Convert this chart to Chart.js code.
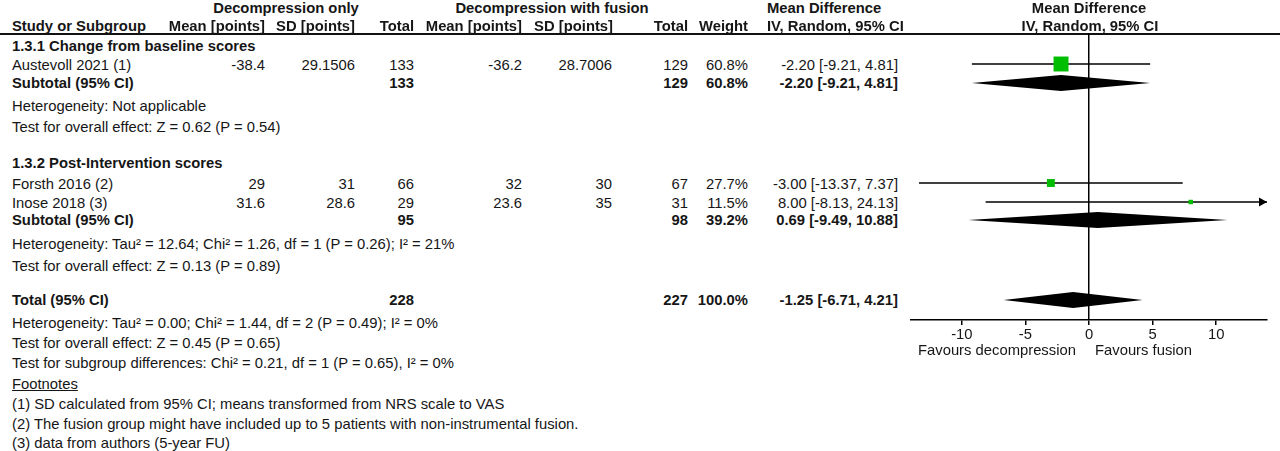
<!DOCTYPE html>
<html>
<head>
<meta charset="utf-8">
<script src="https://cdn.jsdelivr.net/npm/chart.js@4.4.1/dist/chart.umd.min.js"></script>
<style>
  body { margin: 0; background: #fff; width: 1280px; height: 451px; overflow: hidden; position: relative;
         font-family: 'Liberation Sans', Arial, sans-serif; font-size: 14.8px; color: #161616; }
  .t { position: absolute; white-space: nowrap; line-height: 18px; height: 18px; }
  .b { font-weight: bold; }
  .u { text-decoration: underline; }
  #rule { position: absolute; left: 0; top: 33px; width: 1280px; height: 2px; background: #111; }
  #plot { position: absolute; left: 900px; top: 0; width: 380px; height: 350px; }
</style>
</head>
<body>
<div id="rule"></div>
<div id="plot"><canvas id="forest"></canvas></div>
<script>
// studies
const studies = ['Austevoll 2021 (1)', 'Forsth 2016 (2)', 'Inose 2018 (3)'];
const meanOnly = [-38.4, 29, 31.6];
const sdOnly = [29.1506, 31, 28.6];
const totalOnly = [133, 66, 29];
const meanFusion = [-36.2, 32, 23.6];
const sdFusion = [28.7006, 30, 35];
const totalFusion = [129, 67, 31];
const weights = [60.8, 27.7, 11.5];
const md = [-2.20, -3.00, 8.00];
const ciLow = [-9.21, -13.37, -8.13];
const ciHigh = [4.81, 7.37, 24.13];

// pooled rows (subtotal 1.3.1, subtotal 1.3.2, total)
const pooledLabels = ['Subtotal (95% CI)', 'Subtotal (95% CI)', 'Total (95% CI)'];
const pooledOnly = [133, 95, 228];
const pooledFusion = [129, 98, 227];
const pooledWeight = [60.8, 39.2, 100.0];
const pooledMd = [-2.20, 0.69, -1.25];
const pooledLow = [-9.21, -9.49, -6.71];
const pooledHigh = [4.81, 10.88, 4.21];

// axis
const xTicks = [-10, -5, 0, 5, 10];
const xMin = -14, xMax = 14;

// row layout (vertical centre of each table line, px)
const studyRowY = [65, 184, 203];
const markRowY = [64, 183, 202];
const pooledRowY = [83, 220, 300];

function put(text, x, y, align, cls) {
  const d = document.createElement('div');
  d.className = 't ' + (cls || '');
  d.textContent = text;
  d.style.top = (y - 9) + 'px';
  if (align === 'r') d.style.right = (1280 - x) + 'px';
  else if (align === 'c') { d.style.left = x + 'px'; d.style.transform = 'translateX(-50%)'; }
  else d.style.left = x + 'px';
  document.body.appendChild(d);
}
const fmtCI = (m, l, h) => m.toFixed(2) + ' [' + l.toFixed(2) + ', ' + h.toFixed(2) + ']';

// header
put('Decompression only', 286, 8, 'c', 'b');
put('Decompression with fusion', 552, 8, 'c', 'b');
put('Mean Difference', 767, 8, 'l', 'b');
put('Mean Difference', 1089, 8, 'c', 'b');
put('Study or Subgroup', 12, 26, 'l', 'b');
put('Mean [points]', 265, 26, 'r', 'b');
put('SD [points]', 355, 26, 'r', 'b');
put('Total', 414, 26, 'r', 'b');
put('Mean [points]', 522, 26, 'r', 'b');
put('SD [points]', 613, 26, 'r', 'b');
put('Total', 688, 26, 'r', 'b');
put('Weight', 748, 26, 'r', 'b');
put('IV, Random, 95% CI', 767, 26, 'l', 'b');
put('IV, Random, 95% CI', 1090, 26, 'c', 'b');

// study rows
studies.forEach((s, i) => {
  const y = studyRowY[i];
  put(s, 12, y, 'l');
  put(String(meanOnly[i]), 265, y, 'r');
  put(String(sdOnly[i]), 355, y, 'r');
  put(String(totalOnly[i]), 414, y, 'r');
  put(String(meanFusion[i]), 522, y, 'r');
  put(String(sdFusion[i]), 612, y, 'r');
  put(String(totalFusion[i]), 688, y, 'r');
  put(weights[i].toFixed(1) + '%', 748, y, 'r');
  put(fmtCI(md[i], ciLow[i], ciHigh[i]), 898, y, 'r');
});

// pooled rows
pooledLabels.forEach((s, i) => {
  const y = pooledRowY[i];
  put(s, 12, y, 'l', 'b');
  put(String(pooledOnly[i]), 414, y, 'r', 'b');
  put(String(pooledFusion[i]), 688, y, 'r', 'b');
  put(pooledWeight[i].toFixed(1) + '%', 748, y, 'r', 'b');
  put(fmtCI(pooledMd[i], pooledLow[i], pooledHigh[i]), 898, y, 'r', 'b');
});

// other lines
put('1.3.1 Change from baseline scores', 12, 46, 'l', 'b');
put('Heterogeneity: Not applicable', 12, 106, 'l');
put('Test for overall effect: Z = 0.62 (P = 0.54)', 12, 127, 'l');
put('1.3.2 Post-Intervention scores', 12, 163, 'l', 'b');
put('Heterogeneity: Tau² = 12.64; Chi² = 1.26, df = 1 (P = 0.26); I² = 21%', 12, 244, 'l');
put('Test for overall effect: Z = 0.13 (P = 0.89)', 12, 266, 'l');
put('Heterogeneity: Tau² = 0.00; Chi² = 1.44, df = 2 (P = 0.49); I² = 0%', 12, 323, 'l');
put('Test for overall effect: Z = 0.45 (P = 0.65)', 12, 343, 'l');
put('Test for subgroup differences: Chi² = 0.21, df = 1 (P = 0.65), I² = 0%', 12, 363, 'l');
put('Footnotes', 12, 384, 'l', 'u');
put('(1) SD calculated from 95% CI; means transformed from NRS scale to VAS', 12, 404, 'l');
put('(2) The fusion group might have included up to 5 patients with non-instrumental fusion.', 12, 424, 'l');
put('(3) data from authors (5-year FU)', 12, 443, 'l');
put('Favours decompression', 918, 350, 'l');
put('Favours fusion', 1095, 350, 'l');

// diamonds for pooled estimates + arrows for clipped CIs
const forestMarks = {
  id: 'forestMarks',
  afterDatasetsDraw(chart) {
    const { ctx, scales: { x, y }, chartArea } = chart;
    ctx.save();
    ctx.fillStyle = '#000';
    pooledMd.forEach((m, i) => {
      const cy = y.getPixelForValue(pooledRowY[i]);
      ctx.beginPath();
      ctx.moveTo(x.getPixelForValue(pooledLow[i]), cy);
      ctx.lineTo(x.getPixelForValue(m), cy - 8);
      ctx.lineTo(x.getPixelForValue(pooledHigh[i]), cy);
      ctx.lineTo(x.getPixelForValue(m), cy + 8);
      ctx.closePath();
      ctx.fill();
    });
    ciHigh.forEach((h, i) => {
      if (h <= xMax) return;
      const cy = y.getPixelForValue(markRowY[i]);
      const tip = chartArea.right;
      ctx.beginPath();
      ctx.moveTo(tip, cy);
      ctx.lineTo(tip - 8, cy - 4.5);
      ctx.lineTo(tip - 8, cy + 4.5);
      ctx.closePath();
      ctx.fill();
    });
    ctx.restore();
  }
};

const ciSets = studies.map((s, i) => ({
  type: 'line',
  label: s,
  data: [{ x: ciLow[i], y: markRowY[i] }, { x: ciHigh[i], y: markRowY[i] }],
  borderColor: '#000',
  borderWidth: 1.5,
  pointRadius: 0,
  clip: 0,
  order: 1
}));

new Chart(document.getElementById('forest'), {
  type: 'scatter',
  data: {
    datasets: [
      {
        label: 'Mean difference',
        data: md.map((m, i) => ({ x: m, y: markRowY[i] })),
        pointStyle: 'rect',
        pointRadius: weights.map(w => (2 + 0.213 * w) / Math.SQRT2),
        backgroundColor: '#00bd00',
        borderWidth: 0,
        order: 0
      },
      ...ciSets
    ]
  },
  options: {
    responsive: true,
    maintainAspectRatio: false,
    animation: false,
    layout: { padding: { top: 33, left: 11, right: 13, bottom: 0 } },
    plugins: { legend: { display: false }, tooltip: { enabled: false } },
    scales: {
      x: {
        type: 'linear',
        min: xMin,
        max: xMax,
        afterBuildTicks: s => { s.ticks = xTicks.map(v => ({ value: v })); },
        afterFit: s => { s.height = 30; },
        border: { color: '#000', width: 1.5 },
        grid: {
          color: c => (c.tick && c.tick.value === 0 ? '#000' : 'rgba(0,0,0,0)'),
          lineWidth: 1.5,
          tickColor: '#000',
          tickWidth: 1.5,
          tickLength: 5
        },
        ticks: {
          padding: 1,
          color: '#161616',
          font: { family: "'Liberation Sans', Arial, sans-serif", size: 14.8 }
        }
      },
      y: {
        type: 'linear',
        display: false,
        reverse: true,
        min: 33,
        max: 320
      }
    }
  },
  plugins: [forestMarks]
});
</script>
</body>
</html>
